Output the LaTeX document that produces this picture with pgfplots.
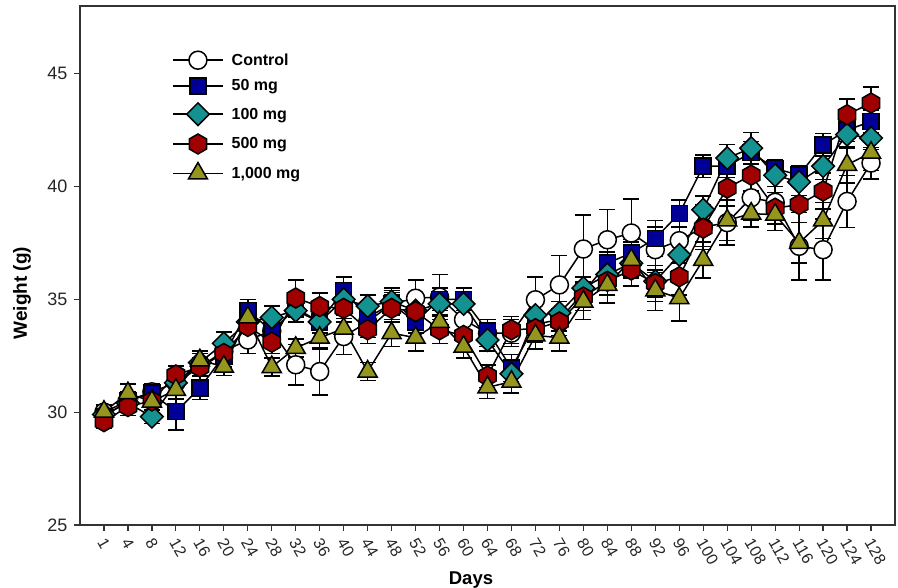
\documentclass[border=0pt]{standalone}
\usepackage{fontspec}
\setmainfont{Liberation Sans}
\usepackage{pgfplots}
\usepackage{pgfplotstable}
\pgfplotsset{compat=1.18}

\definecolor{cblue}{RGB}{0,0,150}
\definecolor{cteal}{RGB}{20,145,145}
\definecolor{cred}{RGB}{160,0,0}
\definecolor{colive}{RGB}{150,150,30}

% pointy-top hexagon
\pgfdeclareplotmark{hexagon*}{%
  \pgfpathmoveto{\pgfqpointpolar{90}{\pgfplotmarksize}}%
  \pgfpathlineto{\pgfqpointpolar{150}{\pgfplotmarksize}}%
  \pgfpathlineto{\pgfqpointpolar{210}{\pgfplotmarksize}}%
  \pgfpathlineto{\pgfqpointpolar{270}{\pgfplotmarksize}}%
  \pgfpathlineto{\pgfqpointpolar{330}{\pgfplotmarksize}}%
  \pgfpathlineto{\pgfqpointpolar{30}{\pgfplotmarksize}}%
  \pgfpathclose
  \pgfusepathqfillstroke}

% x = day index, c = control, b = 50 mg, m = 100 mg, r = 500 mg, t = 1,000 mg
\pgfplotstableread{
x  c     ce   b     be   m     me   r     re   t     te
0  30.00 0.30 29.80 0.30 29.90 0.30 29.58 0.30 30.02 0.30
1  30.50 0.40 30.50 0.40 30.40 0.40 30.25 0.40 30.84 0.40
2  30.90 0.30 30.84 0.40 29.80 0.30 30.50 0.40 30.47 0.40
3  31.30 0.40 30.02 0.80 31.30 0.40 31.65 0.40 30.99 0.40
4  32.00 0.40 31.07 0.50 32.20 0.40 32.00 0.40 32.30 0.40
5  32.70 0.40 32.50 0.50 33.05 0.50 32.60 0.40 32.02 0.40
6  33.20 0.60 34.50 0.50 34.00 0.50 33.80 0.50 34.20 0.40
7  33.60 0.50 33.60 0.50 34.20 0.50 33.10 0.50 32.00 0.40
8  32.10 0.90 34.60 0.40 34.50 0.50 35.06 0.80 32.85 0.40
9  31.80 1.05 34.00 0.50 34.00 0.50 34.68 0.60 33.30 0.50
10 33.35 0.80 35.40 0.60 35.00 0.50 34.60 0.60 33.70 0.60
11 34.00 0.70 34.20 0.50 34.70 0.50 33.65 0.60 31.80 0.40
12 34.80 0.70 34.80 0.50 34.90 0.50 34.60 0.60 33.50 0.60
13 35.05 0.80 34.00 0.50 34.50 0.50 34.46 0.70 33.30 0.60
14 35.10 1.00 35.00 0.50 34.80 0.50 33.65 0.60 34.00 0.60
15 34.10 0.60 35.00 0.50 34.80 0.50 33.40 0.60 32.90 0.50
16 33.50 0.60 33.60 0.50 33.20 0.50 31.60 0.50 31.10 0.50
17 33.50 0.60 31.95 0.60 31.70 0.50 33.65 0.60 31.35 0.50
18 34.98 1.00 33.90 0.50 34.30 0.50 33.70 0.60 33.40 0.60
19 35.64 1.30 34.10 0.50 34.40 0.50 34.00 0.60 33.30 0.60
20 37.23 1.50 35.30 0.50 35.50 0.50 35.10 0.60 34.90 0.80
21 37.64 1.35 36.60 0.50 36.10 0.50 35.80 0.60 35.64 0.80
22 37.94 1.50 37.05 0.60 36.60 0.60 36.30 0.70 36.75 0.80
23 37.20 1.00 37.70 0.80 35.80 0.70 35.70 0.80 35.40 0.90
24 37.60 1.00 38.80 0.60 36.97 0.70 36.00 0.80 35.05 1.00
25 38.20 1.00 40.90 0.50 38.97 0.60 38.15 0.80 36.75 0.80
26 38.40 1.00 40.90 0.50 41.26 0.60 39.93 0.80 38.50 0.90
27 39.50 1.00 41.50 0.50 41.70 0.70 40.50 0.70 38.80 0.60
28 39.30 0.70 40.80 0.40 40.50 0.50 39.04 0.70 38.75 0.70
29 37.35 1.50 40.50 0.40 40.20 0.60 39.20 0.80 37.50 0.90
30 37.20 1.35 41.85 0.50 40.90 0.60 39.80 0.80 38.50 0.80
31 39.34 1.15 42.50 0.50 42.30 0.60 43.18 0.70 40.96 0.80
32 41.04 0.70 42.88 0.50 42.15 0.50 43.70 0.70 41.50 0.80
}\wdata

\begin{document}
\begin{tikzpicture}
\useasboundingbox (-80pt,-63pt) rectangle (818pt,525pt);
\begin{axis}[
  at={(0,0)}, anchor=south west,
  scale only axis, width=815pt, height=519pt,
  xmin=-1, xmax=33, ymin=25, ymax=48,
  xtick={0,...,32},
  xticklabels={1,4,8,12,16,20,24,28,32,36,40,44,48,52,56,60,64,68,72,76,80,84,88,92,96,100,104,108,112,116,120,124,128},
  ytick={25,30,35,40,45},
  /pgf/number format/assume math mode=true,
  tick align=outside, xtick pos=bottom, ytick pos=left,
  major tick length=6pt,
  axis line style={line width=1.5pt, black!80},
  tick style={line width=1.2pt, black!80},
  xticklabel style={yshift=-6pt, xshift=-4pt, rotate=-60, anchor=west, text=black!85, font=\fontsize{16}{16}\selectfont},
  yticklabel style={xshift=-3pt, text=black!85, font=\fontsize{18}{18}\selectfont},
  legend style={draw=none, fill=none, at={(rel axis cs:0,1)}, anchor=north west,
    xshift=89pt, yshift=-43pt, row sep=8.5pt, column sep=6pt,
    font=\bfseries\fontsize{16}{16}\selectfont, cells={anchor=west}},
  legend image code/.code={\draw[mark repeat=2, mark phase=2] plot coordinates {(0pt,0pt) (25pt,0pt) (50pt,0pt)};},
  ser/.style={black, line width=1.5pt, mark options={line width=1.5pt, draw=black},
    error bars/y dir=both, error bars/y explicit,
    error bars/error bar style={line width=1.5pt, black},
    error bars/error mark options={rotate=90, mark size=8pt, line width=1.5pt, black}},
]
\addplot[ser, mark=*, mark size=9pt, mark options={fill=white}] table[x=x, y=c, y error=ce]{\wdata};
\addlegendentry{Control}
\addplot[ser, mark=square*, mark size=8pt, mark options={fill=cblue}] table[x=x, y=b, y error=be]{\wdata};
\addlegendentry{50 mg}
\addplot[ser, mark=square*, mark size=8pt, mark options={fill=cteal, rotate=45}] table[x=x, y=m, y error=me]{\wdata};
\addlegendentry{100 mg}
\addplot[ser, mark=hexagon*, mark size=10pt, mark options={fill=cred}] table[x=x, y=r, y error=re]{\wdata};
\addlegendentry{500 mg}
\addplot[ser, mark=triangle*, mark size=11pt, mark options={fill=colive}] table[x=x, y=t, y error=te]{\wdata};
\addlegendentry{1,000 mg}
\end{axis}
\node[rotate=90, font=\bfseries\fontsize{19}{19}\selectfont] at (-58pt,232pt) {Weight (g)};
\node[font=\bfseries\fontsize{18.5}{18.5}\selectfont] at (391pt,-55pt) {Days};
\end{tikzpicture}
\end{document}
